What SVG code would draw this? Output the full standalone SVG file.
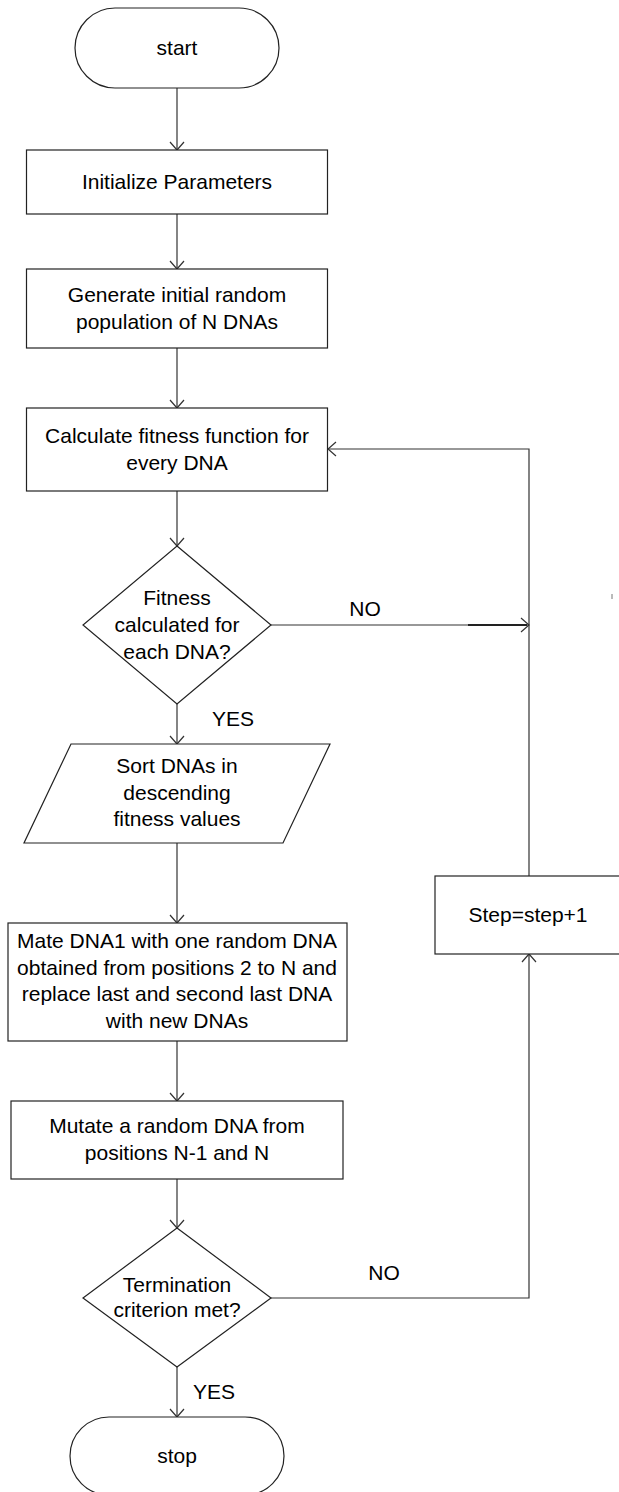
<svg xmlns="http://www.w3.org/2000/svg" width="619" height="1492" viewBox="0 0 619 1492">
<style>
.shape{fill:#fff;stroke:#222;stroke-width:1.2}
.conn{fill:none;stroke:#333;stroke-width:1.2}
text{font-family:"Liberation Sans",Arial,sans-serif;font-size:21px;fill:#000;text-anchor:middle}
</style>
<defs>
<marker id="arr" viewBox="0 0 10 16" refX="9" refY="8" markerWidth="10" markerHeight="16" markerUnits="userSpaceOnUse" orient="auto">
<path d="M1,1 L9,8 L1,15" fill="none" stroke="#333" stroke-width="1.2"/>
</marker>
</defs>
<rect width="619" height="1492" fill="#fff"/>
<g id="connectors">
<line class="conn" x1="177" y1="88" x2="177" y2="150" marker-end="url(#arr)"/>
<line class="conn" x1="177" y1="214" x2="177" y2="269" marker-end="url(#arr)"/>
<line class="conn" x1="177" y1="348" x2="177" y2="408" marker-end="url(#arr)"/>
<line class="conn" x1="177" y1="491" x2="177" y2="546" marker-end="url(#arr)"/>
<line class="conn" x1="177" y1="704" x2="177" y2="744" marker-end="url(#arr)"/>
<line class="conn" x1="271" y1="625" x2="529" y2="625" marker-end="url(#arr)"/>
<line x1="468" y1="625" x2="527" y2="625" stroke="#222" stroke-width="2"/>
<line class="conn" x1="177" y1="843" x2="177" y2="923" marker-end="url(#arr)"/>
<line class="conn" x1="177" y1="1041" x2="177" y2="1101" marker-end="url(#arr)"/>
<line class="conn" x1="177" y1="1179" x2="177" y2="1228" marker-end="url(#arr)"/>
<line class="conn" x1="177" y1="1367" x2="177" y2="1417" marker-end="url(#arr)"/>
<polyline class="conn" points="271,1298 529,1298 529,954" marker-end="url(#arr)"/>
<polyline class="conn" points="529,876 529,449 328,449" marker-end="url(#arr)"/>
<line x1="612" y1="594" x2="612" y2="599" stroke="#777" stroke-width="1"/>
<text x="365" y="616">NO</text>
<text x="233" y="726">YES</text>
<text x="384" y="1280">NO</text>
<text x="214" y="1399">YES</text>
</g>
<g id="start">
<rect class="shape" x="75" y="8" width="204" height="80" rx="40" ry="40"/>
<text x="177" y="55">start</text>
</g>
<g id="init">
<rect class="shape" x="26.5" y="150" width="301" height="64"/>
<text x="177" y="189">Initialize Parameters</text>
</g>
<g id="generate">
<rect class="shape" x="26.5" y="269" width="301" height="79"/>
<text x="177" y="302">Generate initial random</text>
<text x="177" y="329">population of N DNAs</text>
</g>
<g id="calculate">
<rect class="shape" x="26.5" y="408" width="301" height="83"/>
<text x="177" y="443">Calculate fitness function for</text>
<text x="177" y="470">every DNA</text>
</g>
<g id="decision1">
<polygon class="shape" points="177,546 271,625 177,704 83,625"/>
<text x="177" y="605">Fitness</text>
<text x="177" y="632">calculated for</text>
<text x="177" y="659">each DNA?</text>
</g>
<g id="sort">
<polygon class="shape" points="71,744 330,744 283,843 24,843"/>
<text x="177" y="773">Sort DNAs in</text>
<text x="177" y="800">descending</text>
<text x="177" y="826">fitness values</text>
</g>
<g id="mate">
<rect class="shape" x="8" y="923" width="339" height="118"/>
<text x="177" y="948">Mate DNA1 with one random DNA</text>
<text x="177" y="975">obtained from positions 2 to N and</text>
<text x="177" y="1001">replace last and second last DNA</text>
<text x="177" y="1028">with new DNAs</text>
</g>
<g id="step">
<rect class="shape" x="435" y="876" width="186" height="78"/>
<text x="528" y="922">Step=step+1</text>
</g>
<g id="mutate">
<rect class="shape" x="11" y="1101" width="332" height="78"/>
<text x="177" y="1133">Mutate a random DNA from</text>
<text x="177" y="1160">positions N-1 and N</text>
</g>
<g id="decision2">
<polygon class="shape" points="177,1228 271,1298 177,1367 83,1298"/>
<text x="177" y="1292">Termination</text>
<text x="177" y="1317">criterion met?</text>
</g>
<g id="stop">
<rect class="shape" x="70" y="1417" width="214" height="78" rx="39" ry="39"/>
<text x="177" y="1463">stop</text>
</g>
</svg>
